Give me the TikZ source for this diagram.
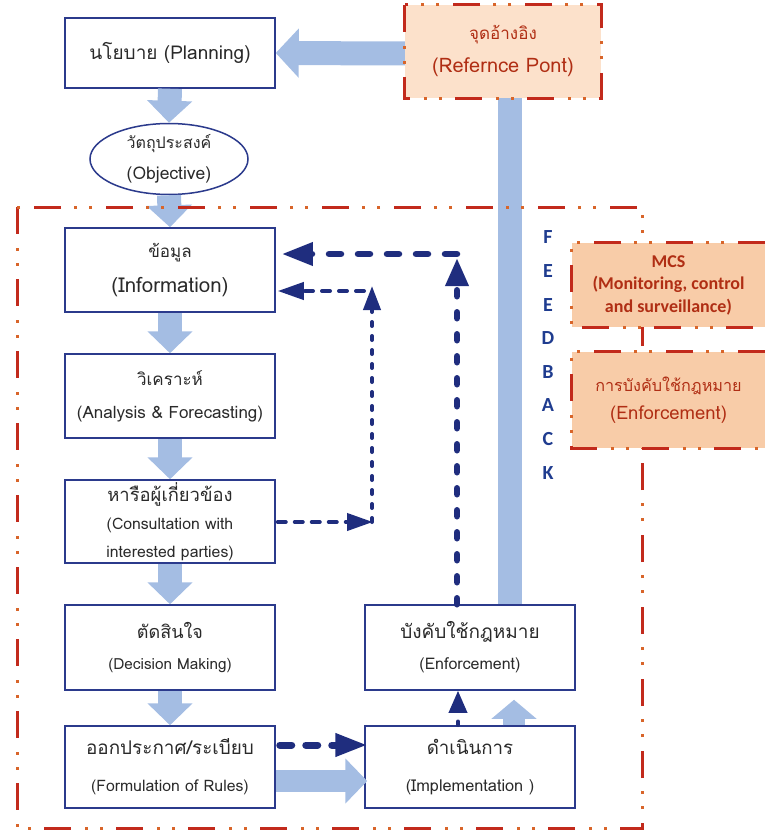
\documentclass[tikz,border=0pt]{standalone}
\usepackage{fontspec}
\setmainfont[Script=Thai]{Loma}
\newfontfamily\calfont{Carlito}
\usetikzlibrary{arrows.meta,calc,shapes.geometric}
\definecolor{boxblue}{HTML}{2B3A8C}
\definecolor{navy}{HTML}{1F2D7E}
\definecolor{lblue}{HTML}{A4BDE3}
\definecolor{fred}{HTML}{C22A1C}
\definecolor{fdot}{HTML}{D8652A}
\definecolor{peach}{HTML}{FCE1CB}
\definecolor{peachd}{HTML}{F8CCA8}
\definecolor{tred}{HTML}{B02E14}
\definecolor{fbblue}{HTML}{1F3C8F}
\definecolor{txt}{HTML}{2A2A2A}
\newcommand{\thline}[2][19]{{\fontsize{#1}{22}\selectfont #2}}
\tikzset{
  boxnode/.style={draw=boxblue, line width=1.5pt, fill=white, minimum width=210pt,
    align=center, inner sep=0pt, text=txt},
  bigarrow/.style={draw=lblue, line width=24pt, -{Triangle[width=44pt,length=22pt]}},
  fbbar/.style={draw=lblue, line width=24pt},
  dashA/.style={draw=navy, line width=6.5pt, line cap=round, dash pattern=on 6pt off 16pt,
    -{Triangle[width=22pt,length=28pt]}},
  dashH/.style={draw=navy, line width=6.5pt, line cap=round, dash pattern=on 12pt off 17pt,
    -{Triangle[width=22pt,length=31pt]}},
  dashT/.style={draw=navy, line width=4pt, line cap=round, dash pattern=on 8pt off 9pt,
    -{Triangle[width=17pt,length=26pt]}},
  dashTv/.style={draw=navy, line width=4pt, line cap=round, dash pattern=on 4pt off 10pt,
    -{Triangle[width=17pt,length=24pt]}},
  framered/.style={draw=fred, line width=3pt, dash pattern=on 27pt off 45pt},
  framedot/.style={draw=fdot, line width=3pt, dash pattern=on 0pt off 41pt on 3pt off 12pt on 3pt off 13pt},
}
\begin{document}
\begin{tikzpicture}[x=1pt,y=-1pt]
\useasboundingbox (0,0) rectangle (765,832);
\clip (0,0) rectangle (765,832);

% boxes (left column)
\node[boxnode, minimum height=70pt, font=\fontsize{19}{22}\selectfont] (plan) at (170,53) {นโยบาย (Planning)};
\node[draw=boxblue, line width=1.5pt, fill=white, ellipse, minimum width=158pt, minimum height=71pt,
  inner sep=0pt, align=center, text=txt, font=\fontsize{17.5}{31}\selectfont] (obj) at (169,159) {\thline[16]{วัตถุประสงค์}\\(Objective)};
\node[boxnode, minimum height=84pt, font=\fontsize{20.5}{35}\selectfont] (info) at (170,270) {\thline[17]{ข้อมูล}\\(Information)};
\node[boxnode, minimum height=84pt, font=\fontsize{17}{33}\selectfont] (ana) at (170,396) {\thline[17]{วิเคราะห์}\\(Analysis \& Forecasting)};
\node[boxnode, minimum height=83pt, font=\fontsize{15.8}{28}\selectfont] (cons) at (170,521.5)
  {\thline[18.4]{หารือผู้เกี่ยวข้อง}\\(Consultation with\\interested parties)};
\node[boxnode, minimum height=85pt, font=\fontsize{15.3}{31}\selectfont] (dec) at (170,647.5)
  {\thline[18]{ตัดสินใจ}\\(Decision Making)};
\node[boxnode, minimum height=82pt, font=\fontsize{15.8}{37}\selectfont] (form) at (170,767)
  {\thline[18.9]{ออกประกาศ/ระเบียบ}\\(Formulation of Rules)};
% right column
\node[boxnode, minimum height=85pt, font=\fontsize{16}{31}\selectfont] (enf) at (470,647.5)
  {\thline[19]{บังคับใช้กฎหมาย}\\(Enforcement)};
\node[boxnode, minimum height=82pt, font=\fontsize{16.3}{37}\selectfont] (impl) at (470,767)
  {\thline[18.7]{ดำเนินการ}\\(Implementation )};

% light blue block arrows
\coordinate (fbx) at (510,0);
\coordinate (upx) at (514,0);
\draw[bigarrow, -{Triangle[width=48pt,length=23pt]}] (405,53.5) -- (plan.east);
\draw[bigarrow] (plan.south) -- (obj.north);
\draw[bigarrow] (obj.south) -- (info.north);
\draw[bigarrow] (info.south) -- (ana.north);
\draw[bigarrow] (ana.south) -- (cons.north);
\draw[bigarrow] (cons.south) -- (dec.north);
\draw[bigarrow] (dec.south) -- (form.north);
\draw[bigarrow, line width=22pt] ([yshift=-14pt]form.east) -- ([yshift=-14pt, xshift=3pt]impl.west);
\draw[bigarrow, line width=22pt, -{Triangle[width=44pt,length=19pt]}, shorten >=9pt] (impl.north -| upx) -- (enf.south -| upx);
\draw[fbbar] (510,98) -- (enf.north -| fbx);

% reference point box
\node[fill=peach, minimum width=196pt, minimum height=93pt, inner sep=0pt, align=center,
  text=tred, font=\fontsize{20}{33}\selectfont] (ref) at (503,51.5) {\thline[17]{จุดอ้างอิง}\\(Refernce Pont)};
\draw[framered] (ref.north west) rectangle (ref.south east);
\draw[framedot] (ref.north west) rectangle (ref.south east);

% main frame
\coordinate (fA) at (17,207);
\coordinate (fB) at (642,828);
\draw[framered] (fA) rectangle (fB);
\draw[framedot] (fA) rectangle (fB);

% MCS boxes
\node[fill=peachd, minimum width=193pt, minimum height=84pt, inner sep=0pt, align=center,
  text=tred, font=\calfont\bfseries\fontsize{18}{22.5}\selectfont] (mcs) at (668.5,285) {MCS\\(Monitoring, control\\and surveillance)};
\draw[framered] (mcs.north east) -- (mcs.north west) -- (mcs.south west) -- (mcs.south east);
\draw[framedot] (mcs.north east) -- (mcs.north west) -- (mcs.south west) -- (mcs.south east);
\node[fill=peachd, minimum width=193pt, minimum height=96pt, inner sep=0pt, align=center,
  text=tred, font=\fontsize{18.5}{28}\selectfont] (enf2) at (668.5,400) {\thline[16.2]{การบังคับใช้กฎหมาย}\\(Enforcement)};
\draw[framered] (enf2.north east) -- (enf2.north west) -- (enf2.south west) -- (enf2.south east);
\draw[framedot] (enf2.north east) -- (enf2.north west) -- (enf2.south west) -- (enf2.south east);

% FEEDBACK
\node[text=fbblue, align=center, inner sep=0pt, font=\calfont\bfseries\fontsize{20}{33.6}\selectfont] (fb) at (548,355)
  {F\\E\\E\\D\\B\\A\\C\\K};

% navy dashed arrows
\coordinate (vx) at (457,258);
\coordinate (hy) at (457,254);
\draw[dashA] (enf.north -| vx) -- (vx);
\draw[dashH, shorten >=6pt] (hy) -- (info.east |- hy);
\coordinate (tv) at (372,522);
\coordinate (tt) at (372,286);
\coordinate (th) at (364,291);
\draw[dashT, shorten <=2pt] (cons.east |- tv) -- ([xshift=1pt]tv);
\draw[dashTv] (tv) -- (tt);
\draw[dashT, shorten >=2pt] (th) -- (info.east |- th);
\coordinate (sx) at (458,0);
\draw[dashTv, line width=3.5pt, -{Triangle[width=18pt,length=22pt]}] (impl.north -| sx) -- (enf.south -| sx);
\coordinate (fy) at (0,745);
\draw[dashH, line width=7pt, dash pattern=on 12pt off 14pt, -{Triangle[width=22pt,length=32pt]}, shorten <=4pt, shorten >=-3pt]
  (form.east |- fy) -- (impl.west |- fy);
\end{tikzpicture}
\end{document}
